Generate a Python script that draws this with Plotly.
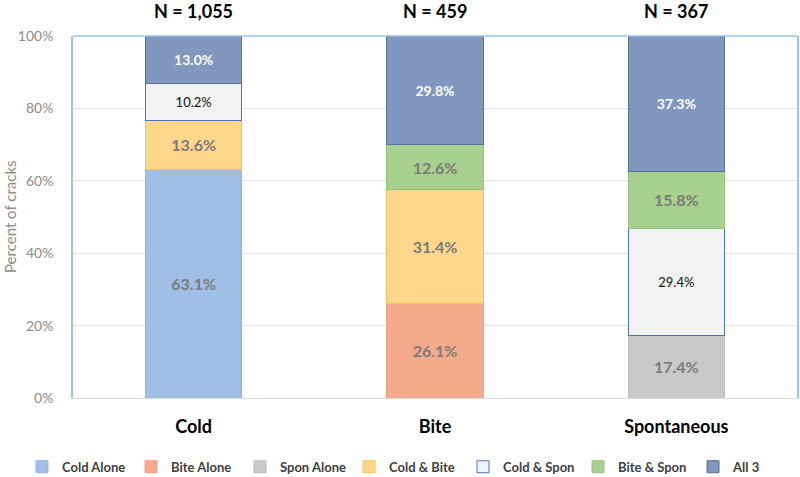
import plotly.graph_objects as go

categories = ["Cold", "Bite", "Spontaneous"]
n_labels = ["N = 1,055", "N = 459", "N = 367"]
y_title = "Percent of cracks"

series_names = ["Cold Alone", "Bite Alone", "Spon Alone", "Cold & Bite",
                "Cold & Spon", "Bite & Spon", "All 3"]
cold_alone = [63.1, None, None]
bite_alone = [None, 26.1, None]
spon_alone = [None, None, 17.4]
cold_bite = [13.6, 31.4, None]
cold_spon = [10.2, None, 29.4]
bite_spon = [None, 12.6, 15.8]
all_3 = [13.0, 29.8, 37.3]
series_values = [cold_alone, bite_alone, spon_alone, cold_bite, cold_spon, bite_spon, all_3]

y_ticks = [0, 20, 40, 60, 80, 100]
y_tick_labels = ["0%", "20%", "40%", "60%", "80%", "100%"]

fills = ["#9fbfe7", "#f5aa8c", "#c9c9c9", "#ffd78c", "#f2f2f2", "#a8d08f", "#8197bd"]
edges = ["#8fb4e3", "#f4a07f", "#bdbdbd", "#f9c24f", "#4a72c4", "#93c47d", "#55709c"]
text_colors = ["#7a7a7a", "#7a7a7a", "#7a7a7a", "#7a7a7a", "#111111", "#7a7a7a", "#ffffff"]
text_weights = ["bold", "bold", "bold", "bold", "normal", "bold", "bold"]
text_sizes = [16, 16, 16, 16, 13, 16, 14]
legend_ids = ["legend", "legend", "legend", "legend", "legend2", "legend2", "legend2"]

FONT = "Lato, Open Sans, sans-serif"

fig = go.Figure()
for name, vals, fc, ec, tc, tw, ts, lg in zip(series_names, series_values, fills, edges,
                                              text_colors, text_weights, text_sizes, legend_ids):
    fig.add_trace(go.Bar(
        name=name, x=categories, y=vals, legend=lg,
        marker=dict(color=fc, line=dict(color=ec, width=1)),
        text=[f"{v:.1f}%" if v is not None else "" for v in vals],
        textposition="inside", insidetextanchor="middle", textangle=0,
        textfont=dict(family=FONT, size=ts, color=tc, weight=tw),
        width=0.4,
    ))

for cat, lab in zip(categories, n_labels):
    fig.add_annotation(x=cat, y=1, xref="x", yref="paper", yanchor="bottom",
                       yshift=12, text=f"<b>{lab}</b>", showarrow=False,
                       font=dict(family=FONT, size=18, color="#000000"))

fig.add_annotation(x=(10 - 73) / 724, y=0.5, xref="paper", yref="paper",
                   xanchor="center", yanchor="middle", textangle=-90,
                   text=y_title, showarrow=False,
                   font=dict(family=FONT, size=15, color="#8c8c8c"))

fig.add_shape(type="line", xref="paper", yref="paper", x0=0, x1=1, y0=1, y1=1,
              line=dict(color="#9dc3e6", width=1.5))

legend_common = dict(orientation="h", xanchor="left", xref="container",
                     yref="paper", y=-0.19, yanchor="middle",
                     font=dict(size=13, color="#404040", weight="bold"),
                     traceorder="normal", itemwidth=30, bgcolor="rgba(0,0,0,0)")

fig.update_layout(
    barmode="stack",
    width=800, height=477,
    margin=dict(l=73, r=3, t=36, b=79, autoexpand=False),
    paper_bgcolor="white", plot_bgcolor="white",
    font=dict(family=FONT, color="#595959"),
    showlegend=True,
    legend=dict(x=22 / 800, entrywidth=64, **legend_common),
    legend2=dict(x=463 / 800, entrywidth=70, **legend_common),
    xaxis=dict(showline=True, linecolor="#d9d9d9", linewidth=1, automargin=False,
               tickfont=dict(size=18, color="#000000", weight="bold"),
               ticks="outside", ticklen=12, tickcolor="rgba(0,0,0,0)"),
    yaxis=dict(range=[0, 100], tickvals=y_ticks, ticktext=y_tick_labels, automargin=False,
               tickfont=dict(size=14, color="#8c8c8c"),
               showgrid=True, gridcolor="#e3e3e3", gridwidth=1,
               showline=True, linecolor="#9dc3e6", linewidth=1.5, mirror=True,
               ticks="outside", ticklen=15, tickcolor="rgba(0,0,0,0)",
               zeroline=False),
    uniformtext=dict(mode=False),
)

fig.write_html("out.html", config={"displayModeBar": False},
               post_script="document.body.style.margin='0';")
